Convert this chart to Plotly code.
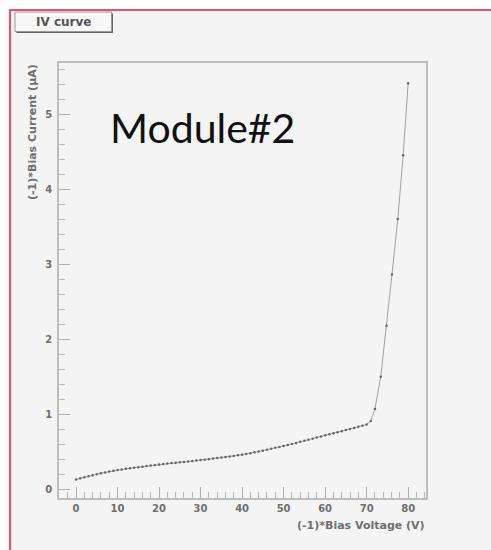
import plotly.graph_objects as go

# Reverse-bias IV sweep of module #2: (-1)*bias voltage [V] vs (-1)*bias current [uA]
voltage = [0, 1, 2, 3, 4, 5, 6, 7, 8, 9,
           10, 11, 12, 13, 14, 15, 16, 17, 18, 19,
           20, 21, 22, 23, 24, 25, 26, 27, 28, 29,
           30, 31, 32, 33, 34, 35, 36, 37, 38, 39,
           40, 41, 42, 43, 44, 45, 46, 47, 48, 49,
           50, 51, 52, 53, 54, 55, 56, 57, 58, 59,
           60, 61, 62, 63, 64, 65, 66, 67, 68, 69,
           70, 71,
           72.0, 73.4, 74.8, 76.1, 77.5, 78.8, 80.0]
current = [0.140, 0.155, 0.170, 0.184, 0.197, 0.210, 0.222, 0.234, 0.245, 0.256,
           0.266, 0.274, 0.282, 0.290, 0.297, 0.304, 0.311, 0.318, 0.325, 0.332,
           0.340, 0.346, 0.352, 0.358, 0.363, 0.368, 0.374, 0.380, 0.386, 0.392,
           0.398, 0.404, 0.411, 0.418, 0.425, 0.432, 0.439, 0.446, 0.454, 0.462,
           0.470, 0.480, 0.491, 0.502, 0.513, 0.524, 0.536, 0.548, 0.561, 0.574,
           0.587, 0.600, 0.613, 0.627, 0.641, 0.655, 0.669, 0.683, 0.698, 0.713,
           0.728, 0.742, 0.756, 0.770, 0.784, 0.798, 0.812, 0.826, 0.841, 0.856,
           0.872, 0.920,
           1.08, 1.51, 2.19, 2.87, 3.61, 4.46, 5.42]

x_ticks = [0, 10, 20, 30, 40, 50, 60, 70, 80]
y_ticks = [0, 1, 2, 3, 4, 5]

canvas_title = "IV curve"
x_title = "(-1)*Bias Voltage (V)"
y_title = "(-1)*Bias Current (\u00b5A)"
label_text = "Module#2"

W, H = 491, 550
L, R, T, B = 59, 426, 63, 498   # frame edges in pixels


def px(xp):
    return (xp - L) / (R - L)


def py(yp):
    return (B - yp) / (B - T)


tick_font = dict(family="DejaVu Sans", size=10, color="#6e6e6e", weight="bold")
title_font = dict(family="DejaVu Sans", size=11, color="#6e6e6e", weight="bold")

fig = go.Figure()
fig.add_trace(go.Scatter(
    x=voltage, y=current, mode="lines+markers",
    line=dict(color="#a0a0a0", width=1),
    marker=dict(color="#666666", size=2.5),
    showlegend=False, hoverinfo="x+y",
))

common = dict(
    showgrid=False, zeroline=False, showline=True, mirror=True,
    linecolor="#bdbdbd", linewidth=1.5,
    ticks="inside", ticklen=11, tickcolor="#b0b0b0", tickwidth=1,
    tickfont=tick_font,
)

fig.update_xaxes(
    range=[-4.1, 84.3], tickvals=x_ticks, ticktext=[str(v) for v in x_ticks],
    minor=dict(dtick=2, tick0=0, ticks="inside", ticklen=6, tickcolor="#b8b8b8"),
    **common,
)
fig.update_yaxes(
    range=[-0.107, 5.69], tickvals=y_ticks, ticktext=[str(v) for v in y_ticks],
    minor=dict(dtick=0.2, tick0=0, ticks="inside", ticklen=6, tickcolor="#b8b8b8"),
    ticklabelstandoff=3,
    **common,
)

shapes = [
    # canvas background with red frame
    dict(type="rect", xref="paper", yref="paper", layer="below",
         x0=px(10), x1=px(500), y0=py(560), y1=py(10),
         fillcolor="#f4f4f4", line=dict(color="#e2566b", width=2.2)),
    # title box shadow
    dict(type="rect", xref="paper", yref="paper",
         x0=px(16.5), x1=px(113), y0=py(33), y1=py(13.5),
         fillcolor="#666666", line=dict(width=0)),
    # title box
    dict(type="rect", xref="paper", yref="paper",
         x0=px(15), x1=px(111.5), y0=py(31.5), y1=py(12),
         fillcolor="#f7f7f7", line=dict(color="#999999", width=1)),
]

annotations = [
    dict(text=canvas_title, xref="paper", yref="paper", x=px(63), y=py(22),
         xanchor="center", yanchor="middle", showarrow=False,
         font=dict(family="DejaVu Sans", size=12, color="#555555", weight="bold")),
    dict(text=x_title, xref="paper", yref="paper", x=px(427), y=py(525),
         xanchor="right", yanchor="middle", showarrow=False,
         font=title_font),
    dict(text=y_title, xref="paper", yref="paper", x=px(32), y=py(62),
         xanchor="center", yanchor="top", textangle=-90, showarrow=False,
         font=title_font),
    dict(text=label_text, xref="paper", yref="paper", x=px(202), y=py(127),
         xanchor="center", yanchor="middle", showarrow=False,
         font=dict(family="Lato", size=41, color="#111111")),
]

fig.update_layout(
    width=W, height=H,
    margin=dict(l=L, r=W - R, t=T, b=H - B, pad=0),
    paper_bgcolor="white", plot_bgcolor="rgba(0,0,0,0)",
    shapes=shapes, annotations=annotations,
)

fig.write_html("out.html")
